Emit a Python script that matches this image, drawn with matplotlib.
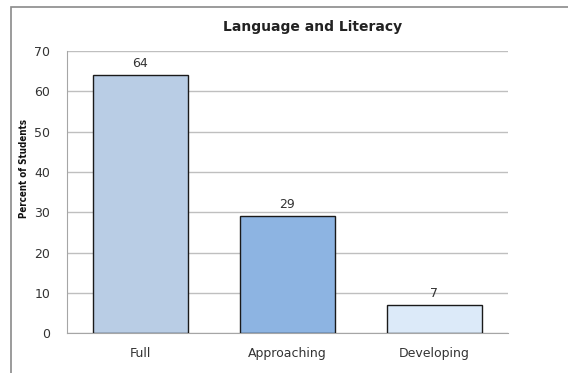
import matplotlib.pyplot as plt
from matplotlib.patches import Rectangle

categories = ['Full', 'Approaching', 'Developing']
percents = [64, 29, 7]
bar_colors = ['#b9cde5', '#8db4e2', '#dceaf9']
y_ticks = [0, 10, 20, 30, 40, 50, 60, 70]

fig = plt.figure(figsize=(5.68, 3.73), dpi=100)
ax = fig.add_axes([0.118, 0.107, 0.776, 0.756])

# outer chart border (right and bottom edges run off the image)
fig.patches.append(Rectangle((11 / 568, -0.05), 1.0, 1 - 7 / 373 + 0.05,
                             transform=fig.transFigure, fill=False,
                             edgecolor='#8a8a8a', linewidth=1.2))

x = range(len(categories))
bars = ax.bar(x, percents, width=0.65, color=bar_colors, edgecolor='#1a1a1a',
              linewidth=1.0, zorder=3)

for b, v in zip(bars, percents):
    ax.text(b.get_x() + b.get_width() / 2, v + 1.2, str(v), ha='center', va='bottom',
            fontsize=9, color='#333333')

ax.set_xlim(-0.5, 2.5)
ax.set_ylim(0, 70)
ax.set_yticks(y_ticks)
ax.set_xticks(list(x))
ax.set_xticklabels(categories)
ax.tick_params(axis='both', length=0, labelsize=9, colors='#333333')
ax.tick_params(axis='y', pad=12)
ax.tick_params(axis='x', pad=10)
ax.yaxis.grid(True, color='#bfbfbf', linewidth=1.0, zorder=0)

for side in ['top', 'right']:
    ax.spines[side].set_visible(False)
ax.spines['left'].set_color('#a6a6a6')
ax.spines['bottom'].set_color('#a6a6a6')

ax.set_ylabel('Percent of Students', fontsize=7, family=['Liberation Sans Narrow', 'DejaVu Sans'],
              stretch='condensed', fontweight='bold', color='#111111')
ax.yaxis.set_label_coords(-0.087, 0.585)

fig.text(313 / 568, 1 - 27 / 373, 'Language and Literacy', ha='center', va='center',
         fontsize=10, fontweight='bold', color='#222222')

fig.savefig('out.png', dpi=100)
